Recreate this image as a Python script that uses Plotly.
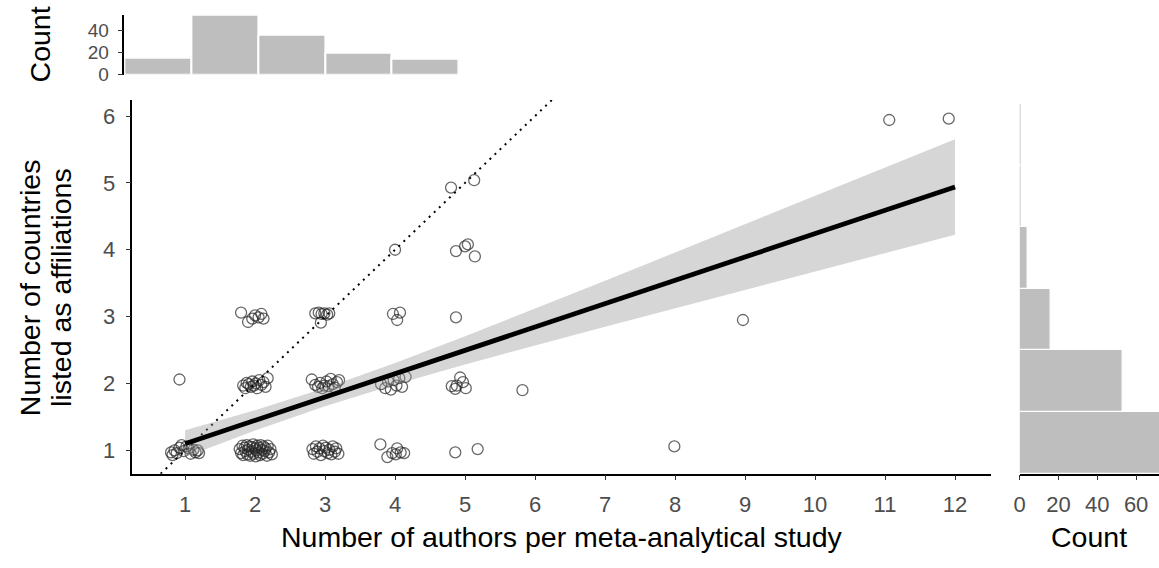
import plotly.graph_objects as go

W, H = 1159, 568

# ---------------- data ----------------
# jittered scatter points (authors, countries)
authors_jit = [
    0.80, 0.82, 0.85, 0.88, 0.92, 0.95, 0.98, 1.02, 1.05, 1.08, 1.12, 1.15, 1.18, 1.20,
    0.92,
    1.78, 1.80, 1.82, 1.83, 1.85, 1.86, 1.88, 1.89, 1.90, 1.92, 1.93, 1.95, 1.96, 1.97, 1.98,
    2.00, 2.01, 2.02, 2.03, 2.05, 2.06, 2.07, 2.08, 2.10, 2.11, 2.12, 2.14, 2.15, 2.17, 2.18,
    2.20, 2.22, 2.24,
    1.83, 1.86, 1.88, 1.91, 1.94, 1.96, 1.98, 2.01, 2.03, 2.06, 2.09, 2.12, 2.15, 2.18,
    1.80, 1.90, 1.96, 2.00, 2.05, 2.09, 2.12,
    2.86, 2.91, 2.95, 2.99, 3.03, 3.06, 2.94,
    2.81, 2.86, 2.90, 2.93, 2.96, 2.99, 3.02, 3.05, 3.08, 3.11, 3.14, 3.17, 3.20,
    2.82, 2.84, 2.87, 2.89, 2.92, 2.94, 2.97, 2.99, 3.01, 3.04, 3.06, 3.09, 3.11, 3.14, 3.16, 3.19,
    4.00,
    3.97, 4.07, 4.03,
    3.80, 3.86, 3.90, 3.94, 3.98, 4.02, 4.06, 4.10, 4.15,
    3.79, 3.89, 3.96, 4.01, 4.03, 4.08, 4.13,
    4.80, 5.13,
    4.87, 5.00, 5.04, 5.14,
    4.87,
    4.81, 4.86, 4.88, 4.93, 4.97, 5.01,
    4.86, 5.18,
    5.82, 7.99, 8.97, 11.06, 11.91,
]
countries_jit = [
    0.97, 0.93, 1.00, 0.96, 1.04, 1.08, 0.99, 1.06, 1.03, 0.95, 1.01, 0.97, 1.00, 0.96,
    2.06,
    1.02, 0.96, 1.07, 0.93, 1.04, 0.99, 1.08, 0.94, 1.01, 1.06, 0.92, 0.98, 1.05, 1.09, 0.95,
    1.03, 0.91, 1.00, 1.07, 0.97, 1.04, 0.93, 1.08, 1.01, 0.95, 1.06, 0.99, 1.03, 0.92, 1.07,
    0.97, 1.02, 0.94,
    1.97, 1.93, 2.01, 1.99, 1.95, 2.03, 1.97, 2.00, 1.93, 2.05, 1.98, 2.02, 1.95, 2.08,
    3.06, 2.92, 2.97, 3.02, 2.99, 3.04, 2.97,
    3.05, 3.06, 3.04, 3.05, 3.03, 3.05, 2.91,
    2.06, 1.98, 1.95, 2.01, 1.93, 1.97, 2.03, 1.96, 2.07, 1.99, 1.94, 2.02, 2.05,
    1.02, 0.95, 1.06, 0.98, 1.03, 0.93, 1.07, 0.99, 1.04, 0.96, 1.01, 0.94, 1.06, 0.98, 1.03, 0.95,
    4.00,
    3.04, 3.06, 2.95,
    1.99, 1.93, 2.03, 1.91, 2.05, 1.97, 2.08, 1.95, 2.10,
    1.09, 0.90, 0.96, 0.94, 1.03, 0.97, 0.96,
    4.93, 5.04,
    3.98, 4.05, 4.08, 3.90,
    2.99,
    1.96, 1.92, 1.97, 2.09, 2.02, 1.93,
    0.97, 1.02,
    1.90, 1.06, 2.95, 5.94, 5.96,
]

# linear fit with 95% CI band
fit_x = [1, 2, 3, 4, 5, 6, 7, 8, 9, 10, 11, 12]
fit_y = [1.100, 1.449, 1.798, 2.147, 2.496, 2.845, 3.194, 3.543, 3.892, 4.241, 4.590, 4.939]
fit_lo = [0.900, 1.296, 1.662, 1.987, 2.285, 2.570, 2.850, 3.127, 3.402, 3.677, 3.951, 4.224]
fit_hi = [1.300, 1.602, 1.934, 2.307, 2.707, 3.120, 3.538, 3.959, 4.382, 4.805, 5.229, 5.654]

# identity reference line
ref_x = [0.0, 13.0]
ref_y = [0.0, 13.0]

# marginal histograms
top_bins = [1, 2, 3, 4, 5]
top_counts = [15, 54, 36, 20, 14]
right_bins = [1, 2, 3, 4, 5, 6]
right_counts = [74, 53, 16, 4, 1, 1]

x_ticks = [1, 2, 3, 4, 5, 6, 7, 8, 9, 10, 11, 12]
y_ticks = [1, 2, 3, 4, 5, 6]

# ---------------- layout helpers ----------------
def px_x(p):
    return p / W

def px_y(p):
    return 1 - p / H

FONT = "Liberation Sans, Arial, sans-serif"
TICKFONT = dict(family=FONT, size=22, color="#4d4d4d")
TOP_TICKFONT = dict(family=FONT, size=19, color="#4d4d4d")
TITLE_SIZE = 28.5
BAR_COLOR = "#bebebe"

fig = go.Figure()

# scatter points
fig.add_trace(go.Scatter(
    x=authors_jit, y=countries_jit, mode="markers",
    marker=dict(symbol="circle-open", size=11, color="rgba(40,40,40,0.7)",
                line=dict(width=1.3, color="rgba(40,40,40,0.7)")),
    xaxis="x", yaxis="y", showlegend=False, hoverinfo="skip"))

# identity dotted line
fig.add_trace(go.Scatter(
    x=ref_x, y=ref_y, mode="lines",
    line=dict(color="black", width=2, dash="2px,5px"),
    xaxis="x", yaxis="y", showlegend=False, hoverinfo="skip"))

# CI band
fig.add_trace(go.Scatter(
    x=fit_x + fit_x[::-1], y=fit_hi + fit_lo[::-1], mode="lines",
    fill="toself", fillcolor="rgba(153,153,153,0.4)", line=dict(width=0),
    xaxis="x", yaxis="y", showlegend=False, hoverinfo="skip"))

# fit line
fig.add_trace(go.Scatter(
    x=fit_x, y=fit_y, mode="lines", line=dict(color="black", width=4.8),
    xaxis="x", yaxis="y", showlegend=False, hoverinfo="skip"))

# top histogram
fig.add_trace(go.Bar(
    x=top_bins, y=top_counts, width=1,
    marker=dict(color=BAR_COLOR, line=dict(color="white", width=2)),
    xaxis="x2", yaxis="y2", showlegend=False, hoverinfo="skip"))

# right histogram
fig.add_trace(go.Bar(
    y=right_bins, x=right_counts, orientation="h", width=1,
    marker=dict(color=BAR_COLOR, line=dict(color="white", width=1.2)),
    xaxis="x3", yaxis="y3", showlegend=False, hoverinfo="skip"))

axis_common = dict(showgrid=False, zeroline=False, showline=True, linecolor="black",
                   linewidth=1.6, ticks="outside", ticklen=5, tickwidth=1.3,
                   tickcolor="#333333")

fig.update_layout(
    width=W, height=H, autosize=False,
    margin=dict(l=0, r=0, t=0, b=0),
    paper_bgcolor="white", plot_bgcolor="white",
    bargap=0, showlegend=False,
    font=dict(family=FONT),
    xaxis=dict(domain=[px_x(127), px_x(990)], range=[0.2467, 12.512], anchor="y",
               tickvals=x_ticks, ticklabelstandoff=5, tickfont=TICKFONT, **axis_common),
    yaxis=dict(domain=[px_y(483), px_y(102)], range=[0.6525, 6.239], anchor="x",
               tickvals=y_ticks, ticklabelstandoff=6, tickfont=TICKFONT, **axis_common),
    xaxis2=dict(domain=[px_x(119), px_x(455)], range=[0.5, 5.5], anchor="y2",
                visible=False),
    yaxis2=dict(domain=[px_y(76), px_y(15)], range=[0, 54.2], anchor="x2",
                tickvals=[0, 20, 40], ticklabelstandoff=5, tickfont=TOP_TICKFONT,
                **axis_common),
    xaxis3=dict(domain=[px_x(1019), 1.0], range=[0, 71.8], anchor="y3",
                tickvals=[0, 20, 40, 60], ticklabelstandoff=5, tickfont=TICKFONT,
                **axis_common),
    yaxis3=dict(domain=[px_y(483), px_y(106)], range=[0.5, 6.5], anchor="x3",
                visible=False),
)

title_font = dict(family=FONT, size=TITLE_SIZE, color="black")
annots = [
    dict(text="Number of authors per meta-analytical study", x=px_x(558.5), y=px_y(548)),
    dict(text="Count", x=px_x(1089), y=px_y(548)),
    dict(text="Count", x=px_x(34), y=px_y(45.5), textangle=-90),
    dict(text="Number of countries", x=px_x(24), y=px_y(293), textangle=-90),
    dict(text="listed as affiliations", x=px_x(56), y=px_y(293), textangle=-90),
]
for a in annots:
    fig.add_annotation(xref="paper", yref="paper", showarrow=False,
                       xanchor="center", yanchor="middle", font=title_font, **a)

page_fix = (
    "var gd=document.getElementById('{plot_id}');"
    "gd.style.position='fixed';gd.style.left='0px';gd.style.top='0px';"
    "document.documentElement.style.overflow='hidden';"
    "document.body.style.margin='0px';document.body.style.overflow='hidden';"
)
fig.write_html("out.html", config={"displayModeBar": False, "responsive": False},
               post_script=page_fix)
